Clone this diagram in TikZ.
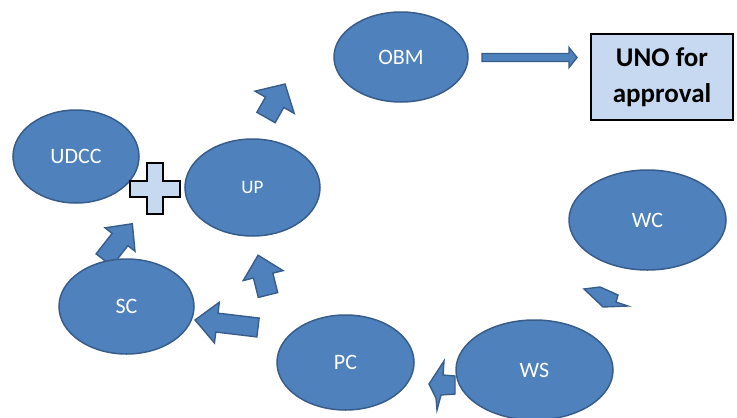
\documentclass[tikz,border=0pt]{standalone}
\usepackage{fontspec}
\setmainfont{Carlito}
\definecolor{ellfill}{HTML}{4F81BD}
\definecolor{elldraw}{HTML}{385D8A}
\definecolor{boxfill}{HTML}{C6D9F1}
\usetikzlibrary{shapes.geometric}
\tikzset{
  ell/.style={ellipse, fill=ellfill, draw=elldraw, line width=1.5pt, inner sep=0pt,
    text=white, font=\fontsize{22}{26}\selectfont},
  blockarr/.style={fill=ellfill, draw=elldraw, line width=1.4pt, line join=miter},
  unobox/.style={rectangle, fill=boxfill, draw=black, line width=2pt, inner sep=0pt,
    align=center, font=\fontsize{27}{36}\selectfont\bfseries},
  plusshape/.style={fill=boxfill, draw=black, line width=2.2pt, line join=miter}
}
% tail x, tail y, angle, length, shaft width, head width, head length
\newcommand{\blkarrow}[7]{%
  \begin{scope}[shift={(#1,#2)},rotate=#3]
    \draw[blockarr] (0,-#5/2) -- (#4-#7,-#5/2) -- (#4-#7,-#6/2) -- (#4,0)
      -- (#4-#7,#6/2) -- (#4-#7,#5/2) -- (0,#5/2) -- cycle;
  \end{scope}}
\begin{document}
\begin{tikzpicture}[x=1pt,y=-1pt]
\useasboundingbox (0,0) rectangle (737,418);
% block arrows (behind ellipses)
\blkarrow{266}{117.5}{60.4}{38.5}{21}{45}{21}
\blkarrow{104}{260}{52}{46}{20}{38}{20}
\blkarrow{268}{295}{104}{41}{20}{41}{21}
\blkarrow{258}{327.5}{173.2}{63.4}{19}{41}{22}
\blkarrow{482}{57.5}{0}{95}{8}{20}{8}
\draw[blockarr] (584,289) -- (600,287) -- (618,295) -- (616,302) -- (628,306) -- (603,307) -- cycle;
\draw[blockarr] (444,361) -- (429,384) -- (436,398) -- (437,410) -- (441,395) -- (455,394)
  -- (455,376) -- (443,375) -- cycle;
% ellipses
\node[ell, minimum width=134pt, minimum height=90pt] (obm) at (401,57) {OBM};
\node[ell, minimum width=126pt, minimum height=93pt] (udcc) at (76,156.5) {UDCC};
\node[ell, minimum width=135pt, minimum height=97pt, font=\fontsize{19}{22}\selectfont] (up) at (252.5,187.5) {UP};
\node[ell, minimum width=157pt, minimum height=100pt] (wc) at (647.5,220) {WC};
\node[ell, minimum width=135pt, minimum height=95pt] (sc) at (126.5,306.5) {SC};
\node[ell, minimum width=137pt, minimum height=95pt] (pc) at (345.5,362.5) {PC};
\node[ell, minimum width=157pt, minimum height=100pt] (ws) at (534.5,370) {WS};
% UNO box
\node[unobox, minimum width=142pt, minimum height=86pt] (uno) at (662,77) {UNO for\\approval};
% plus
\draw[plusshape] (147,163) -- (163,163) -- (163,181) -- (180,181) -- (180,197) -- (163,197)
  -- (163,214) -- (147,214) -- (147,197) -- (130,197) -- (130,181) -- (147,181) -- cycle;
\end{tikzpicture}
\end{document}
